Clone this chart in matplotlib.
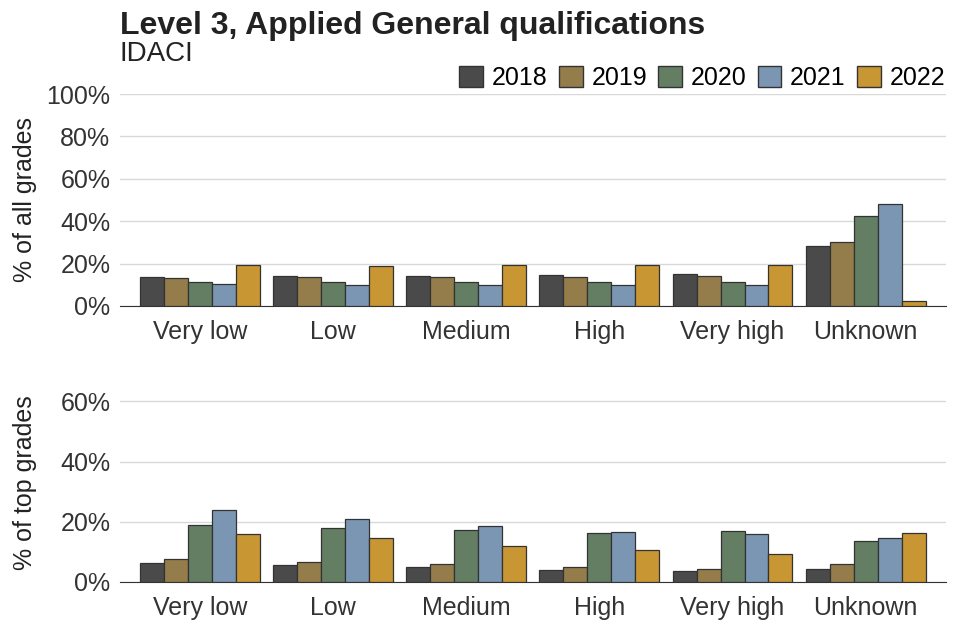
import numpy as np
import matplotlib
matplotlib.use("Agg")
from matplotlib import pyplot as plt
from matplotlib.patches import Patch
from matplotlib.ticker import PercentFormatter

plt.rcParams["font.family"] = ["Liberation Sans", "DejaVu Sans"]

categories = ["Very low", "Low", "Medium", "High", "Very high", "Unknown"]
years = ["2018", "2019", "2020", "2021", "2022"]
colors = ["#4a4a4a", "#957d4b", "#647e63", "#7b96b2", "#c89632"]

# % of all grades, one list per year
all_grades = {
    "2018": [13.7, 14.0, 14.0, 14.6, 15.0, 28.2],
    "2019": [13.2, 13.7, 13.7, 13.7, 14.2, 30.4],
    "2020": [11.2, 11.2, 11.3, 11.3, 11.3, 42.5],
    "2021": [10.2, 10.1, 10.1, 10.1, 9.9, 48.2],
    "2022": [19.2, 18.9, 19.4, 19.4, 19.2, 2.5],
}

# % of top grades
top_grades = {
    "2018": [6.3, 5.5, 4.8, 3.9, 3.5, 4.2],
    "2019": [7.6, 6.6, 5.9, 5.0, 4.4, 5.9],
    "2020": [19.0, 18.0, 17.3, 16.2, 16.9, 13.7],
    "2021": [23.8, 21.0, 18.7, 16.6, 16.0, 14.5],
    "2022": [16.0, 14.4, 12.0, 10.4, 9.3, 16.2],
}


def draw_panel(ax, data, ylim, ticks, ylabel):
    x = np.arange(len(categories))
    width = 0.18
    for i, (year, col) in enumerate(zip(years, colors)):
        ax.bar(x + (i - 2) * width, data[year], width, color=col,
               edgecolor="#333333", linewidth=0.9, zorder=3)
    ax.set_xlim(-0.6, len(categories) - 0.4)
    ax.set_ylim(*ylim)
    ax.set_yticks(ticks)
    ax.yaxis.set_major_formatter(PercentFormatter(decimals=0))
    ax.set_xticks(x)
    ax.set_xticklabels(categories)
    ax.grid(axis="y", color="#d9d9d9", linewidth=1, zorder=0)
    for s in ["top", "right", "left"]:
        ax.spines[s].set_visible(False)
    ax.spines["bottom"].set_color("#333333")
    ax.tick_params(axis="both", length=0, labelsize=18, colors="#333333", pad=7)
    ax.tick_params(axis="x", pad=10)
    ax.set_ylabel(ylabel, fontsize=18, color="#222222")


fig = plt.figure(figsize=(9.6, 6.4), dpi=100)
ax1 = fig.add_axes([0.125, 0.522, 0.86, 0.331])
ax2 = fig.add_axes([0.125, 0.091, 0.86, 0.31])

draw_panel(ax1, all_grades, (0, 100), [0, 20, 40, 60, 80, 100], "% of all grades")
draw_panel(ax2, top_grades, (0, 66), [0, 20, 40, 60], "% of top grades")
ax1.yaxis.set_label_coords(-0.1, 0.5)
ax2.yaxis.set_label_coords(-0.1, 0.5)

fig.text(0.125, 0.936, "Level 3, Applied General qualifications", fontsize=23,
         fontweight="bold", color="#222222", va="bottom")
fig.text(0.125, 0.895, "IDACI", fontsize=20, color="#222222", va="bottom")

handles = [Patch(facecolor=c, edgecolor="#333333", label=y) for y, c in zip(years, colors)]
fig.legend(handles=handles, loc="center right", bbox_to_anchor=(0.995, 0.878),
           ncol=5, frameon=False, fontsize=18, handlelength=0.95, handleheight=0.95,
           handletextpad=0.35, columnspacing=0.45, borderaxespad=0)

fig.savefig("out.png", dpi=100)
